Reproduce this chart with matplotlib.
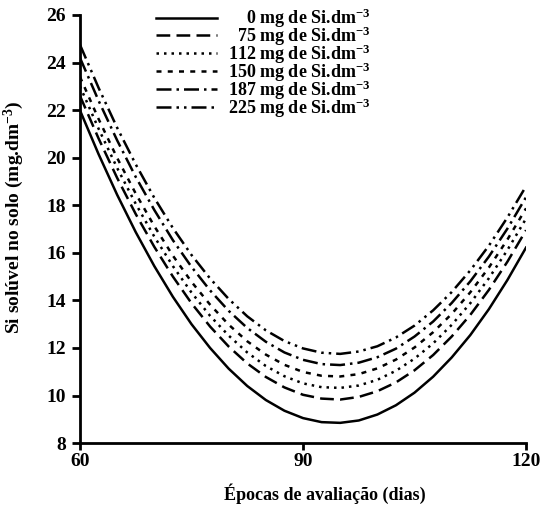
import numpy as np
import matplotlib
matplotlib.use("Agg")
from matplotlib import pyplot as plt

plt.rcParams['font.family'] = ['Liberation Serif', 'DejaVu Serif']
plt.rcParams['font.weight'] = 'bold'
plt.rcParams['mathtext.fontset'] = 'custom'
plt.rcParams['mathtext.rm'] = 'Liberation Serif:bold'
plt.rcParams['mathtext.it'] = 'Liberation Serif:bold'
plt.rcParams['mathtext.bf'] = 'Liberation Serif:bold'

# evaluation dates (days)
days = [60, 62.5, 65, 67.5, 70, 72.5, 75, 77.5, 80, 82.5, 85, 87.5, 90,
        92.5, 95, 97.5, 100, 102.5, 105, 107.5, 110, 112.5, 115, 117.5, 120]

# soluble Si in soil (mg/dm3) for each Si rate
si_0 = [21.99, 20.15, 18.44, 16.87, 15.44, 14.15, 13.00, 12.00, 11.13, 10.40, 9.81, 9.36, 9.05,
        8.88, 8.85, 8.95, 9.20, 9.59, 10.12, 10.79, 11.60, 12.54, 13.63, 14.86, 16.22]
si_75 = [22.60, 20.81, 19.15, 17.63, 16.25, 15.00, 13.88, 12.90, 12.06, 11.35, 10.78, 10.34, 10.03,
         9.87, 9.83, 9.94, 10.18, 10.55, 11.06, 11.70, 12.48, 13.39, 14.44, 15.63, 16.95]
si_112 = [23.00, 21.22, 19.57, 18.06, 16.68, 15.44, 14.33, 13.35, 12.52, 11.81, 11.24, 10.81, 10.51,
          10.35, 10.32, 10.42, 10.66, 11.04, 11.55, 12.19, 12.97, 13.88, 14.93, 16.12, 17.44]
si_150 = [23.40, 21.63, 19.99, 18.49, 17.12, 15.88, 14.78, 13.82, 12.98, 12.28, 11.72, 11.29, 10.99,
          10.83, 10.80, 10.90, 11.14, 11.51, 12.02, 12.66, 13.43, 14.34, 15.38, 16.56, 17.87]
si_187 = [24.20, 22.40, 20.73, 19.19, 17.80, 16.53, 15.41, 14.42, 13.56, 12.84, 12.26, 11.81, 11.50,
          11.32, 11.28, 11.38, 11.61, 11.97, 12.48, 13.11, 13.89, 14.80, 15.84, 17.02, 18.34]
si_225 = [24.75, 22.94, 21.26, 19.72, 18.31, 17.04, 15.91, 14.92, 14.06, 13.33, 12.74, 12.29, 11.98,
          11.80, 11.75, 11.85, 12.07, 12.44, 12.94, 13.58, 14.35, 15.26, 16.30, 17.49, 18.80]

labels = ['    0 mg de Si.dm$^{-3}$',
          '  75 mg de Si.dm$^{-3}$',
          '112 mg de Si.dm$^{-3}$',
          '150 mg de Si.dm$^{-3}$',
          '187 mg de Si.dm$^{-3}$',
          '225 mg de Si.dm$^{-3}$']

series = [si_0, si_75, si_112, si_150, si_187, si_225]
styles = ['-', (0, (5.5, 2.5)), (0, (1, 2)), (0, (2, 2.5)),
          (0, (6, 2, 1, 2)), (0, (6, 2, 1, 2, 1, 2))]

fig = plt.figure(figsize=(5.44, 5.17), dpi=100)
ax = fig.add_axes([0.147, 0.143, 0.820, 0.828])

for vals, ls, lab in zip(series, styles, labels):
    ax.plot(days, vals, color='black', linestyle=ls, linewidth=1.8, label=lab)

ax.set_xlim(60, 120)
ax.set_ylim(8, 26)
ax.set_xticks([60, 90, 120])
ax.set_yticks(np.arange(8, 27, 2))

for side in ['top', 'right']:
    ax.spines[side].set_visible(False)
for side in ['left', 'bottom']:
    ax.spines[side].set_linewidth(2)

ax.tick_params(axis='both', labelsize=14, width=2, length=6, pad=4)
ax.tick_params(axis='x', length=5, pad=2)

ax.set_xlabel('Épocas de avaliação (dias)', fontsize=13, fontweight='bold')
ax.xaxis.set_label_coords(0.549, -0.095)
ax.set_ylabel('Si solúvel no solo (mg.dm$^{-3}$)', fontsize=14, fontweight='bold')
ax.yaxis.set_label_coords(-0.12, 0.527)

leg = ax.legend(loc='upper left', bbox_to_anchor=(0.17, 1.02), frameon=False,
                fontsize=13, handlelength=3.4, handletextpad=0.6,
                labelspacing=-0.3, borderpad=0, borderaxespad=0)

fig.savefig('out.png', dpi=100)
